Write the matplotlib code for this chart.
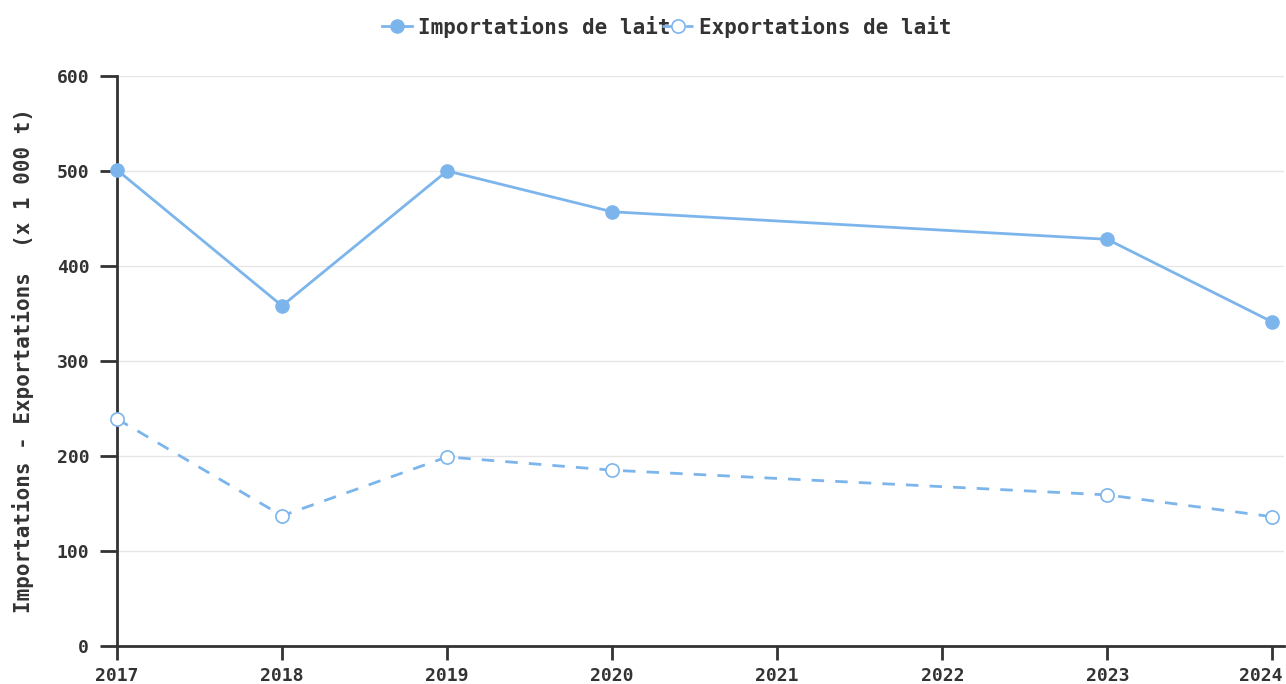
import matplotlib.pyplot as plt
from matplotlib.transforms import ScaledTranslation

years = [2017, 2018, 2019, 2020, 2023, 2024]
importations = [501, 358, 500, 457, 428, 341]
exportations = [239, 137, 199, 185, 159, 136]
year_ticks = [2017, 2018, 2019, 2020, 2021, 2022, 2023, 2024]
y_ticks = [0, 100, 200, 300, 400, 500, 600]

blue = '#7cb5ec'
dark = '#333333'

plt.rcParams['font.family'] = 'DejaVu Sans Mono'
plt.rcParams['font.weight'] = 'bold'

fig = plt.figure(figsize=(12.86, 6.84), dpi=100)
ax = fig.add_axes([0.091, 0.0556, 0.9074, 0.8334])

ax.plot(years, importations, color=blue, lw=2, marker='o', ms=9.5,
        mec=blue, mfc=blue, label='Importations de lait', clip_on=False, zorder=3)
ax.plot(years, exportations, color=blue, lw=2, ls=(0, (4.5, 4)), marker='o',
        ms=9.5, mec=blue, mfc='white', mew=1.2, label='Exportations de lait',
        clip_on=False, zorder=3)

ax.set_xlim(2017, 2024.07)
ax.set_ylim(0, 600)
ax.set_xticks(year_ticks)
ax.set_yticks(y_ticks)
ax.tick_params(axis='both', colors=dark, width=2, labelsize=13, labelcolor=dark)
ax.tick_params(axis='y', length=12, pad=8)
ax.tick_params(axis='x', length=10, pad=5)
for lab in ax.get_xticklabels() + ax.get_yticklabels():
    lab.set_fontweight('bold')
# last year label pushed to fit inside the figure, like the original
last = ax.get_xticklabels()[-1]
last.set_horizontalalignment('right')
last.set_transform(last.get_transform() + ScaledTranslation(10 / 100, 0, fig.dpi_scale_trans))

ax.grid(axis='y', color='#e6e6e6', lw=1)
ax.set_axisbelow(True)
for side in ['top', 'right']:
    ax.spines[side].set_visible(False)
for side in ['left', 'bottom']:
    ax.spines[side].set_color(dark)
    ax.spines[side].set_linewidth(2)

ax.set_ylabel('Importations - Exportations  (x 1 000 t)', fontsize=15,
              fontweight='bold', color=dark, labelpad=16)

leg = ax.legend(loc='center', bbox_to_anchor=(0.471, 1.0863), ncol=2,
                frameon=False, fontsize=15, handlelength=1.45,
                handletextpad=0.3, columnspacing=-0.4, borderaxespad=0)
for t in leg.get_texts():
    t.set_color(dark)
    t.set_fontweight('bold')

fig.savefig('out.png', dpi=100)
